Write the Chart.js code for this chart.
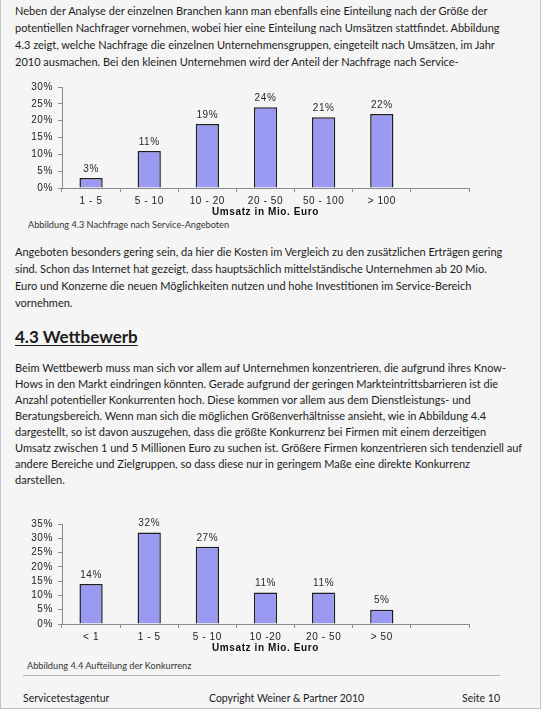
<!DOCTYPE html>
<html>
<head>
<meta charset="utf-8">
<script src="https://cdn.jsdelivr.net/npm/chart.js@4.4.1/dist/chart.umd.min.js"></script>
<style>
  html, body { margin: 0; padding: 0; background: #f5f5f5; }
  #page {
    position: relative; width: 541px; height: 709px; box-sizing: border-box;
    border-left: 1px solid #c4c4c4; border-right: 1px solid #c4c4c4; border-bottom: 1px solid #c4c4c4;
    font-family: Lato, "Noto Sans", sans-serif; color: #1c1c1c; overflow: hidden;
  }
  .para { position: absolute; left: 14px; font-size: 11px; line-height: 17px; white-space: nowrap; }
  .caption { position: absolute; font-size: 9.2px; color: #333; white-space: nowrap; }
  h2 { position: absolute; left: 14px; top: 326px; margin: 0; font-size: 17px; font-weight: bold;
       text-decoration: underline; text-underline-offset: 2px; line-height: 22px; }
  canvas { position: absolute; }
  #rule { position: absolute; left: 22px; top: 675px; width: 477px; height: 1px; background: #b4b4b4; }
  .foot { position: absolute; top: 692px; font-size: 10.5px; white-space: nowrap; }
</style>
</head>
<body>
<div id="page">
  <div class="para" style="top:2px">
    Neben der Analyse der einzelnen Branchen kann man ebenfalls eine Einteilung nach der Größe der<br>
    potentiellen Nachfrager vornehmen, wobei hier eine Einteilung nach Umsätzen stattfindet. Abbildung<br>
    4.3 zeigt, welche Nachfrage die einzelnen Unternehmensgruppen, eingeteilt nach Umsätzen, im Jahr<br>
    2010 ausmachen. Bei den kleinen Unternehmen wird der Anteil der Nachfrage nach Service-
  </div>

  <canvas id="fig43" width="460" height="142" style="left:20px; top:76px"></canvas>
  <div class="caption" style="left:27px; top:219px">Abbildung 4.3 Nachfrage nach Service-Angeboten</div>

  <div class="para" style="top:243px">
    Angeboten besonders gering sein, da hier die Kosten im Vergleich zu den zusätzlichen Erträgen gering<br>
    sind. Schon das Internet hat gezeigt, dass hauptsächlich mittelständische Unternehmen ab 20 Mio.<br>
    Euro und Konzerne die neuen Möglichkeiten nutzen und hohe Investitionen im Service-Bereich<br>
    vornehmen.
  </div>

  <h2>4.3 Wettbewerb</h2>

  <div class="para" style="top:360px; line-height:16px">
    Beim Wettbewerb muss man sich vor allem auf Unternehmen konzentrieren, die aufgrund ihres Know-<br>
    Hows in den Markt eindringen könnten. Gerade aufgrund der geringen Markteintrittsbarrieren ist die<br>
    Anzahl potentieller Konkurrenten hoch. Diese kommen vor allem aus dem Dienstleistungs- und<br>
    Beratungsbereich. Wenn man sich die möglichen Größenverhältnisse ansieht, wie in Abbildung 4.4<br>
    dargestellt, so ist davon auszugehen, dass die größte Konkurrenz bei Firmen mit einem derzeitigen<br>
    Umsatz zwischen 1 und 5 Millionen Euro zu suchen ist. Größere Firmen konzentrieren sich tendenziell auf<br>
    andere Bereiche und Zielgruppen, so dass diese nur in geringem Maße eine direkte Konkurrenz<br>
    darstellen.
  </div>

  <canvas id="fig44" width="460" height="141" style="left:20px; top:513px"></canvas>
  <div class="caption" style="left:26px; top:660px">Abbildung 4.4 Aufteilung der Konkurrenz</div>

  <div id="rule"></div>
  <div class="foot" style="left:22px">Servicetestagentur</div>
  <div class="foot" style="left:208px">Copyright Weiner &amp; Partner 2010</div>
  <div class="foot" style="right:40px">Seite 10</div>
</div>

<script>
// Abbildung 4.3 - Nachfrage nach Service-Angeboten
const fig43Labels = ["1 - 5", "5 - 10", "10 - 20", "20 - 50", "50 - 100", "> 100", ""];
const fig43Values = [3, 11, 19, 24, 21, 22, null];
const fig43Max = 30;

// Abbildung 4.4 - Aufteilung der Konkurrenz
const fig44Labels = ["< 1", "1 - 5", "5 - 10", "10 -20", "20 - 50", "> 50", ""];
const fig44Values = [14, 32, 27, 11, 11, 5, null];
const fig44Max = 35;

const axisTitle = "Umsatz in Mio. Euro";
const chartFont = '"Liberation Sans", Arial, sans-serif';

// percentage labels above the bars, drawn before the bars so they can be covered
const valueLabels = {
    id: "valueLabels",
    beforeDatasetsDraw(chart) {
        const ctx = chart.ctx;
        const values = chart.data.datasets[0].data;
        ctx.save();
        ctx.font = "10px " + chartFont;
        ctx.fillStyle = "#2a2a2a";
        ctx.textAlign = "center";
        ctx.textBaseline = "middle";
        chart.getDatasetMeta(0).data.forEach((bar, i) => {
            if (values[i] == null) return;
            ctx.fillText(values[i] + "%", bar.x, bar.y - 9);
        });
        ctx.restore();
    }
};

const spacedText = {
    id: "spacedText",
    beforeUpdate(chart) { chart.ctx.letterSpacing = "0.6px"; },
    beforeDraw(chart) { chart.ctx.letterSpacing = "0.6px"; }
};

function makeChart(id, labels, values, maxY) {
    const ctx = document.getElementById(id).getContext("2d");
    return new Chart(ctx, {
        type: "bar",
        data: {
            labels: labels,
            datasets: [{
                data: values,
                backgroundColor: "#9a9af2",
                borderColor: "#1e1e1e",
                borderWidth: 1.5,
                categoryPercentage: 1,
                barPercentage: 0.4
            }]
        },
        options: {
            responsive: false,
            animation: false,
            layout: { padding: { top: 9, right: 12, bottom: 0, left: 0 } },
            plugins: { legend: { display: false }, tooltip: { enabled: false } },
            scales: {
                x: {
                    grid: { offset: true, drawOnChartArea: false, tickLength: 4, color: "#8a8a8a" },
                    border: { display: true, color: "#8a8a8a" },
                    ticks: { color: "#222", padding: 3, maxRotation: 0, autoSkip: false,
                             font: { family: chartFont, size: 10 } },
                    title: {
                        display: true, text: axisTitle, color: "#111",
                        padding: { top: 0, bottom: 0 },
                        font: { family: chartFont, size: 10, weight: "bold" }
                    },
                    afterFit(scale) { scale.height = 30; }
                },
                y: {
                    min: 0, max: maxY,
                    grid: { drawOnChartArea: false, tickLength: 4, color: "#8a8a8a" },
                    border: { display: true, color: "#8a8a8a" },
                    ticks: {
                        stepSize: 5, autoSkip: false, color: "#222", padding: 5,
                        font: { family: chartFont, size: 10 },
                        callback: (v) => v + "%"
                    },
                    afterFit(scale) { scale.width = 41; }
                }
            }
        },
        plugins: [spacedText, valueLabels]
    });
}

makeChart("fig43", fig43Labels, fig43Values, fig43Max);
makeChart("fig44", fig44Labels, fig44Values, fig44Max);
</script>
</body>
</html>
